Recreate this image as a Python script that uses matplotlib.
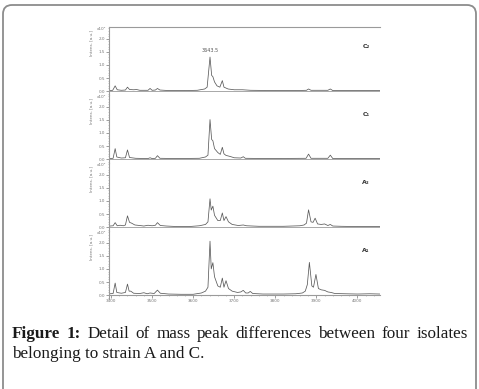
import matplotlib
matplotlib.use("Agg")
import matplotlib.pyplot as plt
from matplotlib.patches import FancyBboxPatch
from matplotlib.transforms import IdentityTransform
from matplotlib.ticker import MultipleLocator

# --- spectra (m/z, intensity x10^4) ---
c2_mz = [3397, 3404, 3410, 3415, 3425, 3435, 3440, 3445, 3455, 3462, 3470, 3490, 3495, 3500,
         3508, 3513, 3519, 3540, 3580, 3610, 3628, 3634, 3641, 3645, 3648, 3652, 3658, 3665,
         3671, 3675, 3685, 3700, 3720, 3740, 3800, 3850, 3876, 3881, 3887, 3928, 3934, 3940,
         4000, 4055]
c2_int = [0.02, 0.03, 0.20, 0.05, 0.03, 0.04, 0.15, 0.06, 0.05, 0.06, 0.03, 0.03, 0.10, 0.03,
          0.04, 0.10, 0.04, 0.02, 0.02, 0.03, 0.08, 0.15, 1.30, 0.60, 0.55, 0.35, 0.20, 0.15,
          0.40, 0.15, 0.08, 0.05, 0.05, 0.03, 0.02, 0.02, 0.03, 0.08, 0.03, 0.03, 0.08, 0.02,
          0.02, 0.02]

c1_mz = [3397, 3405, 3410, 3414, 3425, 3435, 3440, 3445, 3460, 3490, 3495, 3500, 3508, 3513,
         3519, 3560, 3615, 3630, 3636, 3641, 3645, 3648, 3652, 3660, 3666, 3671, 3675, 3680,
         3690, 3700, 3716, 3722, 3727, 3780, 3875, 3881, 3887, 3928, 3934, 3940, 4055]
c1_int = [0.02, 0.03, 0.40, 0.08, 0.04, 0.05, 0.35, 0.06, 0.03, 0.02, 0.05, 0.02, 0.03, 0.13,
          0.03, 0.02, 0.03, 0.08, 0.15, 1.51, 0.75, 0.70, 0.40, 0.25, 0.18, 0.45, 0.20, 0.14,
          0.10, 0.05, 0.04, 0.09, 0.03, 0.02, 0.03, 0.19, 0.03, 0.03, 0.15, 0.02, 0.02]

a2_mz = [3397, 3405, 3410, 3415, 3422, 3430, 3435, 3440, 3445, 3450, 3458, 3470, 3480, 3490,
         3500, 3508, 3513, 3520, 3535, 3560, 3590, 3615, 3630, 3636, 3641, 3644, 3648, 3652,
         3660, 3666, 3671, 3675, 3680, 3686, 3695, 3710, 3722, 3730, 3760, 3820, 3860, 3870,
         3876, 3881, 3887, 3892, 3897, 3903, 3912, 3920, 3928, 3934, 3940, 3960, 4000, 4055]
a2_int = [0.04, 0.05, 0.17, 0.05, 0.07, 0.05, 0.08, 0.43, 0.18, 0.15, 0.08, 0.06, 0.04, 0.07,
          0.05, 0.07, 0.17, 0.06, 0.04, 0.02, 0.02, 0.05, 0.10, 0.20, 1.08, 0.65, 0.80, 0.45,
          0.25, 0.25, 0.54, 0.25, 0.40, 0.20, 0.10, 0.06, 0.08, 0.05, 0.03, 0.03, 0.05, 0.08,
          0.15, 0.66, 0.20, 0.18, 0.34, 0.12, 0.10, 0.12, 0.06, 0.10, 0.04, 0.03, 0.02, 0.02]

a1_mz = [3397, 3405, 3410, 3414, 3425, 3435, 3440, 3444, 3448, 3455, 3470, 3480, 3488, 3495,
         3505, 3513, 3520, 3540, 3570, 3600, 3620, 3630, 3636, 3641, 3644, 3648, 3652, 3660,
         3666, 3671, 3675, 3680, 3686, 3695, 3708, 3716, 3722, 3728, 3734, 3739, 3745, 3770,
         3820, 3850, 3866, 3873, 3878, 3883, 3889, 3893, 3899, 3905, 3912, 3920, 3928, 3936,
         3945, 3970, 4000, 4030, 4055]
a1_int = [0.05, 0.06, 0.46, 0.10, 0.07, 0.10, 0.42, 0.15, 0.15, 0.07, 0.06, 0.09, 0.05, 0.08,
          0.06, 0.19, 0.07, 0.04, 0.03, 0.03, 0.08, 0.15, 0.30, 2.06, 1.00, 1.24, 0.70, 0.35,
          0.30, 0.65, 0.30, 0.55, 0.25, 0.15, 0.10, 0.12, 0.18, 0.08, 0.08, 0.14, 0.06, 0.04,
          0.04, 0.05, 0.08, 0.15, 0.40, 1.25, 0.35, 0.30, 0.79, 0.25, 0.20, 0.18, 0.12, 0.10,
          0.06, 0.05, 0.04, 0.05, 0.04]

panel_names = ["C\u2082", "C\u2081", "A\u2082", "A\u2081"]
spectra = [(c2_mz, c2_int), (c1_mz, c1_int), (a2_mz, a2_int), (a1_mz, a1_int)]
peak_label = "3643.5"
peak_label_pos = (3641, 1.45)

caption_line1 = [("Figure", True), ("1:", True), ("Detail", False), ("of", False),
                 ("mass", False), ("peak", False), ("differences", False), ("between", False),
                 ("four", False), ("isolates", False)]
caption_line2 = "belonging to strain A and C."

W, H = 479, 389
fig = plt.figure(figsize=(W / 100, H / 100), dpi=100)

# outer rounded frame (bottom edge falls outside the picture)
fig.add_artist(FancyBboxPatch((3, -40), W - 6, H - 3 + 38,
                              boxstyle="round,pad=0,rounding_size=9",
                              transform=IdentityTransform(), fill=False,
                              edgecolor="#8c8c8c", linewidth=1.3))

left, right = 109, 380
top0, ph = 27, 68
axes = []
for i, (name, (mz, inten)) in enumerate(zip(panel_names, spectra)):
    y_top = top0 + ph * i
    ax = fig.add_axes([left / W, 1 - (y_top + ph) / H, (right - left) / W, ph / H])
    ax.plot(mz, inten, color="#5a5a5a", linewidth=0.55)
    ax.set_xlim(3395, 4055)
    ax.set_ylim(-0.15, 2.45)
    ax.axhline(0, color="#9a9a9a", linewidth=0.6, zorder=0)
    ax.spines["right"].set_visible(False)
    ax.spines["bottom"].set_visible(False)
    ax.spines["top"].set_visible(i == 0)
    for s in ["left", "top"]:
        ax.spines[s].set_color("#9a9a9a")
        ax.spines[s].set_linewidth(0.8)
    ax.set_yticks([0, 0.5, 1.0, 1.5, 2.0])
    ax.set_yticklabels(["0.0", "0.5", "1.0", "1.5", "2.0"])
    ax.yaxis.set_minor_locator(MultipleLocator(0.1))
    ax.tick_params(axis="y", which="major", length=2, width=0.5, labelsize=3,
                   colors="#777777", pad=1)
    ax.tick_params(axis="y", which="minor", length=1, width=0.4, colors="#999999")
    ax.xaxis.set_major_locator(MultipleLocator(100))
    ax.xaxis.set_minor_locator(MultipleLocator(20))
    ax.tick_params(axis="x", which="major", length=2, width=0.5, labelsize=3,
                   colors="#777777", pad=1)
    ax.tick_params(axis="x", which="minor", length=1, width=0.4, colors="#999999")
    if i < 3:
        ax.tick_params(axis="x", which="both", length=0, labelbottom=False)
    else:
        ax.spines["bottom"].set_visible(True)
        ax.spines["bottom"].set_color("#9a9a9a")
        ax.spines["bottom"].set_position(("data", 0))
    ax.text(-0.012, 0.995, "x10\u2074", transform=ax.transAxes, ha="right", va="top",
            fontsize=3, color="#777777")
    ax.text(-0.065, 0.76, "Intens. [a.u.]", transform=ax.transAxes, rotation=90,
            ha="center", va="center", fontsize=3, color="#777777")
    ax.text(0.948, 0.72, name, transform=ax.transAxes, ha="center", va="center",
            fontsize=4.5, color="#333333", fontweight="bold")
    ax.patch.set_alpha(0)
    axes.append(ax)

axes[0].text(peak_label_pos[0], peak_label_pos[1], peak_label, ha="center", va="bottom",
             fontsize=3.5, color="#555555")

# caption, first line justified between x=12 and x=468
serif = "Liberation Serif"
fs = 12.3
renderer = fig.canvas.get_renderer()
words = []
for w, bold in caption_line1:
    t = fig.text(0, 0, w, fontsize=fs, family=serif, fontweight="bold" if bold else "normal",
                 color="#1a1a1a", transform=IdentityTransform(), va="baseline")
    words.append(t)
widths = [t.get_window_extent(renderer).width for t in words]
x0, x1 = 12, 468
gap = (x1 - x0 - sum(widths)) / (len(words) - 1)
x = x0
for t, wd in zip(words, widths):
    t.set_position((x, H - 338))
    x += wd + gap
fig.text(x0, H - 358, caption_line2, fontsize=fs, family=serif, color="#1a1a1a",
         transform=IdentityTransform(), va="baseline")

fig.savefig("out.png", dpi=100)
